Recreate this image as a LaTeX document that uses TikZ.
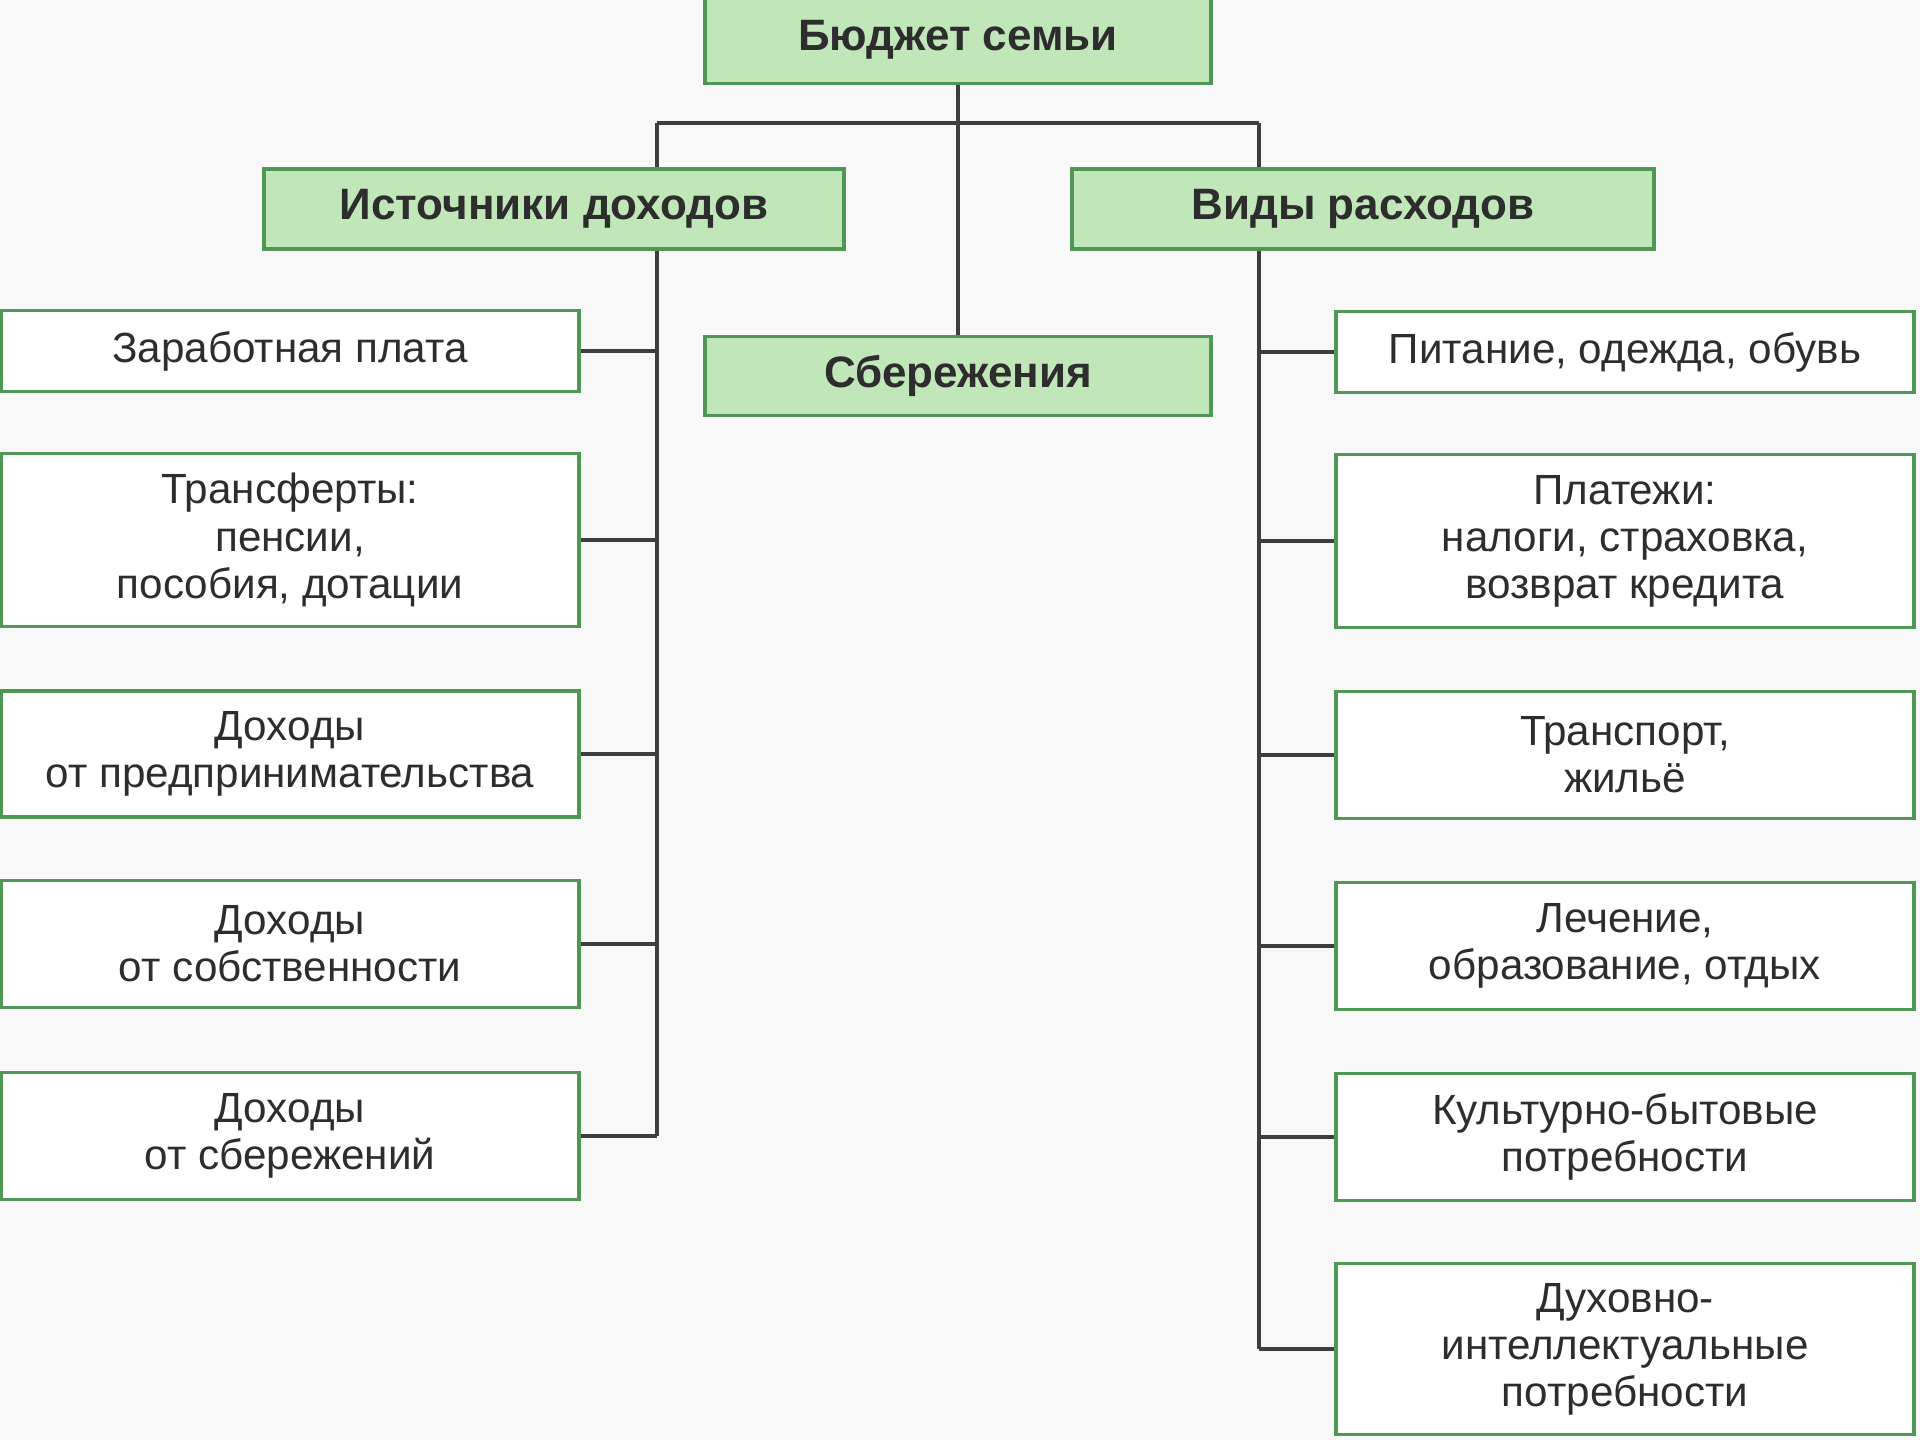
\documentclass[tikz,border=0pt]{standalone}
\usepackage{fontspec}
\setmainfont{Liberation Sans}
\definecolor{boxgreen}{RGB}{192,230,186}
\definecolor{edgegreen}{RGB}{80,150,84}
\definecolor{linegray}{RGB}{62,62,62}
\definecolor{textgray}{RGB}{45,45,45}
\definecolor{paper}{RGB}{248,248,248}

\begin{document}
\begin{tikzpicture}[x=0.01cm, y=-0.01cm,
    greenbox/.style={draw=edgegreen, fill=boxgreen, line width=1.1pt, text=textgray,
        font=\fontsize{12.5}{13.2}\selectfont\bfseries, inner sep=0pt},
    whitebox/.style={draw=edgegreen, fill=white, line width=1pt, text=textgray,
        font=\fontsize{12}{13.4}\selectfont, align=center, inner sep=0pt,
        minimum width=5.78cm},
    link/.style={draw=linegray, line width=1.1pt}]
    % Page
    \fill[paper] (0,0) rectangle (1920,1440);
    \useasboundingbox (0,0) rectangle (1920,1440);

    % Top level
    \node[greenbox, minimum width=5.05cm, minimum height=0.87cm] (budget) at (958,40) {Бюджет семьи};
    \node[greenbox, minimum width=5.8cm, minimum height=0.8cm] (src) at (554,209) {Источники доходов};
    \node[greenbox, minimum width=5.82cm, minimum height=0.8cm] (exp) at (1363,209) {Виды расходов};
    \node[greenbox, minimum width=5.05cm, minimum height=0.79cm] (sav) at (958,376) {Сбережения};

    % Incomes
    \node[whitebox, minimum height=0.81cm] (wage) at (290,351) {Заработная плата};
    \node[whitebox, minimum height=1.73cm] (transf) at (290,540) {Трансферты:\\пенсии,\\пособия, дотации};
    \node[whitebox, minimum height=1.26cm] (biz) at (290,754) {Доходы\\от предпринимательства};
    \node[whitebox, minimum height=1.27cm] (prop) at (290,944) {Доходы\\от собственности};
    \node[whitebox, minimum height=1.27cm] (savinc) at (290,1136) {Доходы\\от сбережений};

    % Expenses
    \node[whitebox, minimum height=0.81cm] (food) at (1625,352) {Питание, одежда, обувь};
    \node[whitebox, minimum height=1.73cm] (pay) at (1625,541) {Платежи:\\налоги, страховка,\\возврат кредита};
    \node[whitebox, minimum height=1.27cm] (transp) at (1625,755) {Транспорт,\\жильё};
    \node[whitebox, minimum height=1.27cm] (med) at (1625,946) {Лечение,\\образование, отдых};
    \node[whitebox, minimum height=1.27cm] (cult) at (1625,1137) {Культурно-бытовые\\потребности};
    \node[whitebox, minimum height=1.71cm] (spirit) at (1625,1349) {Духовно-\\интеллектуальные\\потребности};

    % Trunks
    \coordinate (ltrunk) at (657,123);
    \coordinate (rtrunk) at (1259,123);
    \draw[link] (ltrunk) -- (rtrunk);
    \draw[link] (budget.south) -- (sav.north);
    \draw[link] (ltrunk) -- (ltrunk |- src.north);
    \draw[link] (ltrunk |- src.south) -- (ltrunk |- savinc.east);
    \draw[link] (rtrunk) -- (rtrunk |- exp.north);
    \draw[link] (rtrunk |- exp.south) -- (rtrunk |- spirit.west);

    % Branches
    \foreach \n in {wage,transf,biz,prop,savinc} {
        \draw[link] (\n.east) -- (\n.east -| ltrunk);
    }
    \foreach \n in {food,pay,transp,med,cult,spirit} {
        \draw[link] (\n.west) -- (\n.west -| rtrunk);
    }
\end{tikzpicture}
\end{document}
